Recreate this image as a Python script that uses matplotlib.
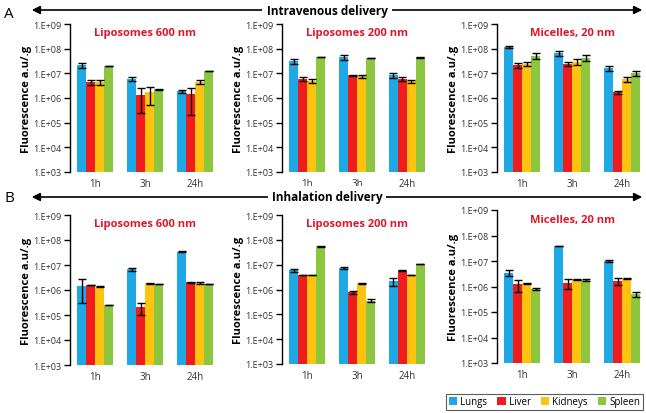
import numpy as np
import matplotlib
matplotlib.use("Agg")
import matplotlib.pyplot as plt

plt.rcParams["font.family"] = ["Open Sans", "DejaVu Sans"]

times = ["1h", "3h", "24h"]
organs = ["Lungs", "Liver", "Kidneys", "Spleen"]
colors = ["#1DA9E6", "#EE1C1C", "#FFC20E", "#8CC63F"]
yticks = [1e3, 1e4, 1e5, 1e6, 1e7, 1e8, 1e9]
ytick_labels = ["1.E+03", "1.E+04", "1.E+05", "1.E+06", "1.E+07", "1.E+08", "1.E+09"]

# rows = organs (Lungs, Liver, Kidneys, Spleen), columns = 1h, 3h, 24h
iv_lipo600 = [[2.2e7, 5.9e6, 1.85e6], [4.4e6, 1.35e6, 1.4e6],
              [4.5e6, 1.7e6, 4.6e6], [2.0e7, 2.3e6, 1.25e7]]
iv_lipo600_err = [[5e6, 1.2e6, 2e5], [1e6, 1.1e6, 1.2e6],
                  [1e6, 1.2e6, 8e5], [5e5, 1e5, 3e5]]
iv_lipo200 = [[3.2e7, 4.4e7, 8.3e6], [5.9e6, 8.3e6, 5.9e6],
              [5.0e6, 7.6e6, 4.7e6], [4.5e7, 4.1e7, 4.4e7]]
iv_lipo200_err = [[7e6, 1e7, 2e6], [1e6, 5e5, 1e6],
                  [1e6, 9e5, 8e5], [1e6, 1e6, 1e6]]
iv_mic20 = [[1.17e8, 6.4e7, 1.6e7], [2.2e7, 2.4e7, 1.7e6],
            [2.4e7, 2.9e7, 5.9e6], [5.1e7, 4.3e7, 1.0e7]]
iv_mic20_err = [[1.5e7, 1.3e7, 3e6], [5e6, 5e6, 3e5],
                [5e6, 8e6, 1.5e6], [1.3e7, 1e7, 2e6]]

inh_lipo600 = [[1.5e6, 6.7e6, 3.4e7], [1.6e6, 2.0e5, 2.0e6],
               [1.36e6, 1.85e6, 1.9e6], [2.5e5, 1.75e6, 1.75e6]]
inh_lipo600_err = [[1.2e6, 1.2e6, 1e6], [5e4, 1e5, 5e4],
                   [1e5, 5e4, 1.5e5], [1e4, 3e4, 3e4]]
inh_lipo200 = [[6.1e6, 7.3e6, 2.2e6], [3.9e6, 7.8e5, 5.8e6],
               [3.9e6, 1.8e6, 3.9e6], [5.4e7, 3.6e5, 1.05e7]]
inh_lipo200_err = [[8e5, 8e5, 8e5], [1e5, 1e5, 2e5],
                   [1e5, 1e5, 1e5], [1e6, 6e4, 3e5]]
inh_mic20 = [[3.5e6, 3.8e7, 1.0e7], [1.2e6, 1.4e6, 1.65e6],
             [1.35e6, 1.9e6, 2.0e6], [8.1e5, 1.8e6, 5.0e5]]
inh_mic20_err = [[1e6, 5e5, 1e6], [6e5, 6e5, 5e5],
                 [5e4, 1e5, 1e5], [1e5, 2e5, 1e5]]

W, H = 646, 414
fig = plt.figure(figsize=(W / 100, H / 100), dpi=100)


def px_axes(left, top, right, bottom):
    return fig.add_axes([left / W, 1 - bottom / H, (right - left) / W, (bottom - top) / H])


def draw_panel(ax, title, vals, errs):
    x = np.arange(len(times))
    bw = 0.18
    for i, organ in enumerate(organs):
        ax.bar(x + (i - 1.5) * bw, vals[i], bw, color=colors[i], label=organ,
               yerr=errs[i], error_kw=dict(ecolor="black", elinewidth=1.0, capsize=3, capthick=1.0))
    ax.set_yscale("log")
    ax.set_ylim(1e3, 1e9)
    ax.set_xlim(-0.5, 2.5)
    ax.set_yticks(yticks)
    ax.set_yticklabels(ytick_labels)
    ax.minorticks_off()
    ax.set_xticks(x)
    ax.set_xticklabels(times)
    ax.tick_params(axis="y", labelsize=6.5, length=4, width=1, labelcolor="#333333", pad=2)
    ax.tick_params(axis="x", labelsize=7, length=0, labelcolor="#333333", pad=4)
    for s in ["top", "right", "bottom"]:
        ax.spines[s].set_visible(False)
    ax.spines["left"].set_linewidth(1)
    ax.set_ylabel("Fluorescence a.u/.g", fontsize=8, fontweight="bold", labelpad=1)
    ax.text(0.5, 0.94, title, transform=ax.transAxes, ha="center", va="center",
            color="#E0162B", fontsize=8, fontweight="bold")


top_row = [("Liposomes 600 nm", iv_lipo600, iv_lipo600_err, 70, 25, 173),
           ("Liposomes 200 nm", iv_lipo200, iv_lipo200_err, 282, 25, 173),
           ("Micelles, 20 nm", iv_mic20, iv_mic20_err, 497, 25, 173)]
bottom_row = [("Liposomes 600 nm", inh_lipo600, inh_lipo600_err, 70, 216, 366),
              ("Liposomes 200 nm", inh_lipo200, inh_lipo200_err, 282, 216, 365),
              ("Micelles, 20 nm", inh_mic20, inh_mic20_err, 497, 211, 364)]

axes = []
for title, vals, errs, left, top, bottom in top_row + bottom_row:
    ax = px_axes(left, top, left + 150, bottom)
    draw_panel(ax, title, vals, errs)
    axes.append(ax)


def header(y, label, letter, letter_y):
    yf = 1 - y / H
    fig.text(9 / W, 1 - letter_y / H, letter, fontsize=11, ha="center", va="center")
    fig.add_artist(matplotlib.patches.FancyArrowPatch(
        (29 / W, yf), (645 / W, yf), transform=fig.transFigure,
        arrowstyle="<|-|>", mutation_scale=12, color="black", lw=1.2))
    fig.text(327 / W, yf, label, fontsize=8.5, fontweight="bold", ha="center", va="center",
             bbox=dict(facecolor="white", edgecolor="none", pad=3))


header(11, "Intravenous delivery", "A", 15)
header(198, "Inhalation delivery", "B", 199)

handles, labels = axes[0].get_legend_handles_labels()
leg = fig.legend(handles, labels, loc="center right", bbox_to_anchor=(643 / W, 1 - 403 / H),
                 ncol=4, fontsize=7, frameon=True, fancybox=False, edgecolor="#333333",
                 handlelength=0.9, handleheight=0.9, handletextpad=0.3, columnspacing=1.0,
                 borderpad=0.3, borderaxespad=0)
leg.get_frame().set_linewidth(0.8)

fig.savefig("out.png", dpi=100)
